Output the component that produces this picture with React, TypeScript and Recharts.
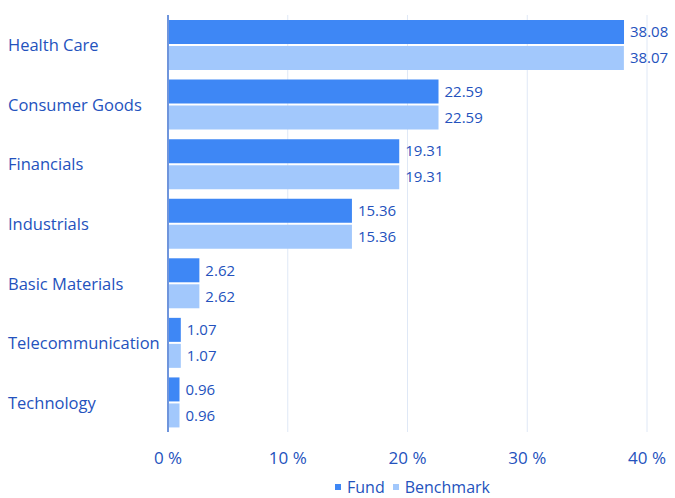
import { BarChart, Bar, XAxis, YAxis, CartesianGrid, Legend, LabelList } from "recharts";

const sectors = [
  "Health Care",
  "Consumer Goods",
  "Financials",
  "Industrials",
  "Basic Materials",
  "Telecommunication",
  "Technology",
];
const fund = [38.08, 22.59, 19.31, 15.36, 2.62, 1.07, 0.96];
const benchmark = [38.07, 22.59, 19.31, 15.36, 2.62, 1.07, 0.96];
const xTicks = [0, 10, 20, 30, 40];

const data = sectors.map((name, i) => ({ name, fund: fund[i], benchmark: benchmark[i] }));

const TEXT = "#2452bd";
const FUND = "#3e87f5";
const BENCH = "#a2c8fc";
const FONT = "'Open Sans', sans-serif";

const SectorTick = (props: any) => {
  const { y, payload } = props;
  return (
    <text x={8} y={y} textAnchor="start" dominantBaseline="central" fill={TEXT} fontSize={16.5} fontFamily={FONT}>
      {payload.value}
    </text>
  );
};

const LegendContent = () => (
  <div style={{ display: "flex", justifyContent: "center", alignItems: "center", fontFamily: FONT, fontSize: 16, lineHeight: "18px", color: TEXT, paddingLeft: 178, paddingTop: 6 }}>
    <span style={{ width: 6, height: 6, background: FUND, display: "inline-block", marginRight: 6 }} />
    <span style={{ marginRight: 8 }}>Fund</span>
    <span style={{ width: 6, height: 6, background: BENCH, display: "inline-block", marginRight: 6 }} />
    <span>Benchmark</span>
  </div>
);

export default function App() {
  return (
    <div style={{ position: "absolute", left: 0, top: 0, width: 675, height: 498, background: "#fff" }}>
      <BarChart
        width={675}
        height={498}
        data={data}
        layout="vertical"
        margin={{ top: 15, right: 28, left: 0, bottom: 0 }}
        barSize={24}
        barGap={2}
      >
        <CartesianGrid horizontal={false} stroke="#dfe8f6" />
        <XAxis
          type="number"
          domain={[0, 40]}
          ticks={xTicks}
          tickFormatter={(v) => `${v} %`}
          axisLine={false}
          tickLine={false}
          tickMargin={14}
          height={40}
          tick={{ fill: TEXT, fontSize: 17, fontFamily: FONT }}
        />
        <YAxis
          type="category"
          dataKey="name"
          width={168}
          axisLine={{ stroke: "#6f95dc", strokeWidth: 2 }}
          tickLine={false}
          tick={<SectorTick />}
        />
        <Legend verticalAlign="bottom" height={26} content={<LegendContent />} />
        <Bar dataKey="fund" name="Fund" fill={FUND} isAnimationActive={false}>
          <LabelList dataKey="fund" position="right" offset={6} fill={TEXT} fontSize={15} fontFamily={FONT} formatter={(v: any) => Number(v).toFixed(2)} />
        </Bar>
        <Bar dataKey="benchmark" name="Benchmark" fill={BENCH} isAnimationActive={false}>
          <LabelList dataKey="benchmark" position="right" offset={6} fill={TEXT} fontSize={15} fontFamily={FONT} formatter={(v: any) => Number(v).toFixed(2)} />
        </Bar>
      </BarChart>
    </div>
  );
}
